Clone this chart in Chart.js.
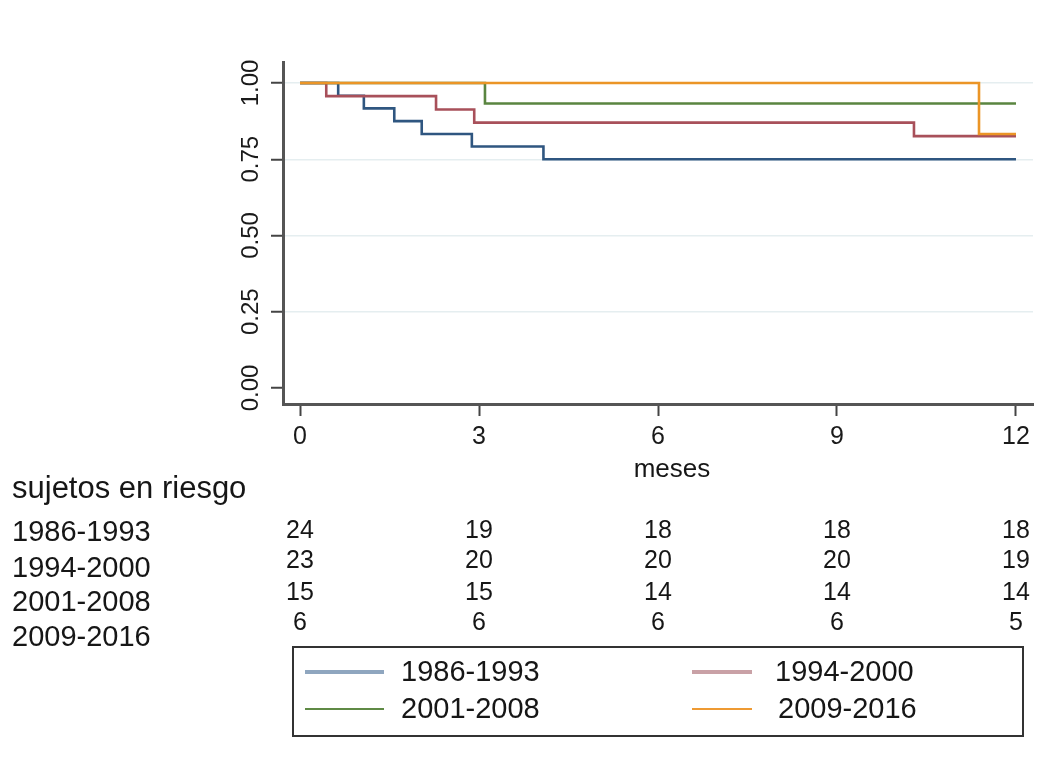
<!DOCTYPE html>
<html>
<head>
<meta charset="utf-8">
<script src="https://cdn.jsdelivr.net/npm/chart.js@4.4.1/dist/chart.umd.min.js"></script>
<style>
html,body{margin:0;padding:0;background:#ffffff;}
#wrap{width:1046px;height:762px;position:relative;}
</style>
</head>
<body>
<div id="wrap"><canvas id="c" width="1046" height="762"></canvas></div>
<script>
// ---- data ----
const seriesNames = ['1986-1993', '1994-2000', '2001-2008', '2009-2016'];
const times1986 = [0, 0.64, 1.07, 1.58, 2.04, 2.88, 4.08, 12];
const surv1986  = [1, 0.958, 0.917, 0.875, 0.833, 0.792, 0.750, 0.750];
const times1994 = [0, 0.44, 2.28, 2.92, 10.29, 12];
const surv1994  = [1, 0.957, 0.913, 0.870, 0.826, 0.826];
const times2001 = [0, 3.10, 12];
const surv2001  = [1, 0.933, 0.933];
const times2009 = [0, 11.38, 12];
const surv2009  = [1, 0.833, 0.833];
const xTicks = [0, 3, 6, 9, 12];
const yTicks = [0, 0.25, 0.5, 0.75, 1];
const yTickLabels = ['0.00', '0.25', '0.50', '0.75', '1.00'];
const riskTitle = 'sujetos en riesgo';
const xTitle = 'meses';
const riskTimes = [0, 3, 6, 9, 12];
const risk1986 = [24, 19, 18, 18, 18];
const risk1994 = [23, 20, 20, 20, 19];
const risk2001 = [15, 15, 14, 14, 14];
const risk2009 = [6, 6, 6, 6, 5];

// ---- styles ----
const FONT = '"Liberation Sans", Arial, sans-serif';
const lineColors = ['#2f5680', '#a8505a', '#5a8540', '#eb9526'];
const legendColors = ['#8fa6bf', '#c9a1a6', '#5f8a45', '#ee9a33'];
const legendWidths = [4, 4, 2, 2];

const allTimes = [times1986, times1994, times2001, times2009];
const allSurv = [surv1986, surv1994, surv2001, surv2009];
const allRisk = [risk1986, risk1994, risk2001, risk2009];

const datasets = seriesNames.map((name, i) => ({
  label: name,
  data: allTimes[i].map((t, j) => ({ x: t, y: allSurv[i][j] })),
  stepped: true,
  borderColor: lineColors[i],
  borderWidth: 2.6,
  pointRadius: 0,
  fill: false,
  order: 3 - i
}));

const riskPlugin = {
  id: 'riskTable',
  afterDraw(chart) {
    const ctx = chart.ctx;
    const xs = chart.scales.x;
    ctx.save();
    ctx.fillStyle = '#161616';
    ctx.textBaseline = 'alphabetic';
    // x axis title
    ctx.textAlign = 'center';
    ctx.font = '26px ' + FONT;
    ctx.fillText(xTitle, 672, 477);
    // at-risk table
    ctx.textAlign = 'left';
    ctx.font = '31px ' + FONT;
    ctx.fillText(riskTitle, 12, 498);
    ctx.font = '29px ' + FONT;
    const rowBase = [541, 577, 611, 646];
    seriesNames.forEach((n, i) => ctx.fillText(n, 12, rowBase[i]));
    ctx.font = '25px ' + FONT;
    ctx.textAlign = 'center';
    const numBase = [538, 568, 600, 630];
    allRisk.forEach((arr, i) => {
      arr.forEach((v, j) => ctx.fillText(String(v), xs.getPixelForValue(riskTimes[j]), numBase[i]));
    });
    // legend box
    ctx.strokeStyle = '#333';
    ctx.lineWidth = 2;
    ctx.strokeRect(293, 647, 730, 89);
    const cols = [[305, 384, 401], [692, 752, 775], [305, 384, 401], [692, 752, 778]];
    const rows = [672, 672, 709, 709];
    ctx.font = '29px ' + FONT;
    ctx.textAlign = 'left';
    ctx.textBaseline = 'middle';
    seriesNames.forEach((n, i) => {
      ctx.beginPath();
      ctx.strokeStyle = legendColors[i];
      ctx.lineWidth = legendWidths[i];
      ctx.moveTo(cols[i][0], rows[i]);
      ctx.lineTo(cols[i][1], rows[i]);
      ctx.stroke();
      ctx.fillStyle = '#161616';
      ctx.fillText(n, cols[i][2], rows[i] + 1);
    });
    ctx.restore();
  }
};

new Chart(document.getElementById('c'), {
  type: 'line',
  data: { datasets },
  options: {
    responsive: false,
    animation: false,
    devicePixelRatio: 1,
    layout: { padding: { left: 200, right: 13, top: 62, bottom: 277 } },
    plugins: { legend: { display: false }, tooltip: { enabled: false } },
    scales: {
      x: {
        type: 'linear',
        min: -0.285,
        max: 12.285,
        afterBuildTicks: s => { s.ticks = xTicks.map(v => ({ value: v })); },
        afterFit: s => { s.height = 81; },
        grid: { drawOnChartArea: false, drawTicks: true, tickLength: 12, tickColor: '#444', tickWidth: 2 },
        border: { color: '#555', width: 3 },
        ticks: { font: { family: FONT, size: 25 }, color: '#1a1a1a', padding: 6, maxRotation: 0, autoSkip: false, callback: v => String(v) },
        title: { display: false }
      },
      y: {
        type: 'linear',
        min: -0.0525,
        max: 1.0689,
        afterBuildTicks: s => { s.ticks = yTicks.map(v => ({ value: v })); },
        afterFit: s => { s.width = 83; },
        grid: {
          color: c => (c.tick && c.tick.value === 0) ? 'rgba(0,0,0,0)' : '#e5eef0',
          lineWidth: 1.5,
          drawTicks: true, tickLength: 12, tickColor: '#444', tickWidth: 2
        },
        border: { color: '#555', width: 3 },
        ticks: {
          font: { family: FONT, size: 24 }, color: '#1a1a1a',
          minRotation: 90, maxRotation: 90, crossAlign: 'center', padding: -4, autoSkip: false,
          callback: v => yTickLabels[yTicks.indexOf(v)]
        }
      }
    }
  },
  plugins: [riskPlugin]
});
</script>
</body>
</html>
